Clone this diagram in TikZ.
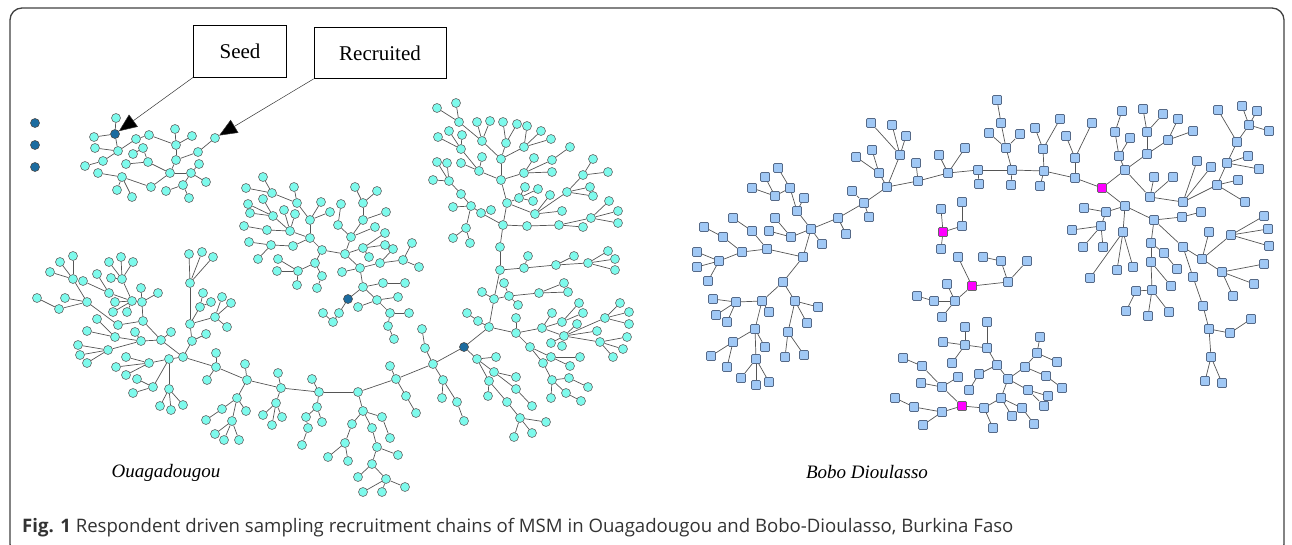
\documentclass[tikz,border=0pt]{standalone}
\usepackage{fontspec}
\setmainfont{Liberation Serif}
\newfontfamily\capfont{Open Sans}
\usetikzlibrary{arrows.meta}
\definecolor{ouacyan}{RGB}{125,250,236}
\definecolor{ouablue}{RGB}{28,108,160}
\definecolor{boboblue}{RGB}{160,200,245}
\definecolor{boboedge}{RGB}{85,105,135}
\definecolor{bobopink}{RGB}{255,0,255}
\definecolor{linkgray}{RGB}{85,85,85}
\tikzset{
  ouanode/.style={circle, draw=black!60, line width=0.6pt, fill=ouacyan, minimum size=9pt, inner sep=0pt},
  ouaseed/.style={ouanode, fill=ouablue, draw=black!70},
  bobonode/.style={rectangle, rounded corners=1pt, draw=boboedge, line width=0.7pt, fill=boboblue, minimum size=9pt, inner sep=0pt},
  boboseed/.style={bobonode, fill=bobopink, draw=black!60},
  link/.style={draw=linkgray, line width=0.7pt},
  labelbox/.style={draw, line width=0.8pt, fill=white, inner sep=0pt, font=\fontsize{21}{24}\selectfont},
  pointer/.style={draw=black!80, line width=0.5pt, -{Triangle[length=18pt,width=15pt,fill=black]}}
}
\begin{document}
\begin{tikzpicture}[x=1pt,y=-1pt]
\useasboundingbox (0,0) rectangle (1292,544);
\draw[black!75, line width=1.3pt, rounded corners=12pt] (10,8) rectangle (1284,556);

\foreach \y [count=\i] in {123,145,167}
  \node[ouaseed] (lone\i) at (35,\y) {};

\node[ouaseed] (qs) at (115,134) {};
\foreach \n/\x/\y/\p in {qa/116/118/qs, qb/94/137/qs, qf/118/151/qs, qe/95/148/qf,
    qj/103/161/qf, qi/85/166/qj, qc/136/139/qf, qd/149/135/qc, qp/176/145/qd,
    qm/175/129/qp, qn/192/136/qp, qr/176/160/qp, qq/198/152/qr, qo/215/138/qq,
    qw/170/173/qr, ql/148/162/qw, qg/143/148/ql, qh/133/154/qg, qk/126/164/ql,
    qx/191/173/qw, qt/199/164/qx, qy/206/182/qx, qad/183/185/qx, qac/166/191/qad,
    qae/189/198/qad, qab/151/187/qw, qv/122/177/qab, qu/98/173/qv, qz/117/190/qv,
    qaa/132/197/qv} {
  \node[ouanode] (\n) at (\x,\y) {};
  \draw[link] (\p) -- (\n);
}

\node[ouaseed] (os) at (464,347) {};
\foreach \n/\x/\y/\p in {o1/433/364/os, o2/396/379/o1, o3/358/392/o2, o4/319/392/o3,
    o5/281/388/o4, o6/247/380/o5, o7/216/367/o6, o8/183/357/o7,
    o1a/425/348/o1, o1b/422/329/o1a, o1c/443/380/o1, o1d/442/398/o1c,
    o1e/457/402/o1c, o1f/464/421/o1e,
    o2a/390/366/o2, o2b/406/396/o2, o2c/416/413/o2b,
    o3a/363/411/o3, o3b/382/417/o3a, o3c/352/424/o3a, o3d/372/428/o3a,
    o3e/390/438/o3b, o3f/345/443/o3c, o3g/328/457/o3f, o3h/348/461/o3f,
    o3i/377/447/o3d, o3j/398/455/o3i, o3k/372/464/o3i,
    o3m/358/477/o3k, o3n/386/479/o3k, o3o/405/487/o3n, o3p/363/492/o3n,
    o3q/382/492/o3n,
    o4a/312/379/o4, o4b/317/407/o4, o4c/306/417/o4b, o4d/308/428/o4c,
    o4e/302/445/o4d, o4f/322/422/o4b,
    o5a/278/373/o5, o5b/276/403/o5, o5c/263/415/o5b, o5d/272/425/o5b,
    o5e/282/417/o5b,
    o6a/245/364/o6, o6b/237/398/o6, o6c/222/409/o6b, o6d/206/420/o6c,
    o6e/246/411/o6b, o6f/232/421/o6b, o6g/215/434/o6f, o6h/224/440/o6f,
    o6i/239/440/o6f,
    o7a/216/353/o7, o7b/207/380/o7} {
  \node[ouanode] (\n) at (\x,\y) {};
  \draw[link] (\p) -- (\n);
}
\foreach \n/\x/\y/\p in {o8a/161/340/o8, o8b/143/321/o8a, o8c/142/302/o8b, o8d/141/288/o8c,
    o8e/158/293/o8c, o8f/132/301/o8c, o8g/122/279/o8f, o8h/109/262/o8g,
    o8i/121/257/o8g, o8j/133/262/o8g, o8n/111/278/o8g, o8k/109/293/o8f,
    o8l/83/281/o8k, o8m/97/274/o8k, o8o/115/302/o8f, o8p/113/312/o8f,
    o8q/127/312/o8f,
    o8r/118/325/o8b, o8s/87/302/o8r, o8t/73/279/o8s, o8u/73/256/o8t,
    o8v/60/262/o8t, o8w/50/272/o8t, o8x/65/298/o8s, o8y/59/309/o8s,
    o8z/37/298/o8y,
    o8aa/171/332/o8a, o8ab/141/341/o8a, o8ac/135/332/o8ab, o8ad/115/337/o8ab,
    o8ae/97/319/o8ad, o8af/87/331/o8ad, o8ag/108/350/o8ab, o8ah/78/345/o8ag,
    o8ai/80/355/o8ag, o8aj/87/363/o8ag,
    o8ak/169/359/o8, o8al/149/363/o8ak, o8am/126/357/o8al, o8an/116/367/o8al,
    o8ao/126/375/o8al, o8ap/153/387/o8ak, o8aq/137/379/o8ap, o8ar/133/393/o8ap,
    o8as/169/389/o8ak, o8at/160/406/o8as, o8au/171/410/o8as, o8av/183/405/o8as,
    o8aw/192/341/o8, o8ax/206/334/o8aw, o8ay/190/324/o8aw, o8az/190/283/o8ay,
    o8ba/189/254/o8az, o8bb/202/252/o8az, o8bc/213/257/o8az, o8bd/200/307/o8ay,
    o8be/203/293/o8bd, o8bf/211/302/o8bd, o8bg/215/317/o8ay, o8bh/222/297/o8bg,
    o8bi/231/303/o8bg, o8bj/227/327/o8bg} {
  \node[ouanode] (\n) at (\x,\y) {};
  \draw[link] (\p) -- (\n);
}
\foreach \n/\x/\y/\p in {p1/489/327/os, p2/478/321/p1, p3/467/313/p2, p4/494/299/p1,
    p5/482/292/p4, p6/509/296/p4, p7/504/283/p6, p8/518/305/p6, p9/539/293/p6,
    p10/564/283/p9, p11/568/292/p9, p12/500/270/p4,
    d1/477/359/os, d2/496/357/d1, d3/494/372/d1, d4/516/377/d3, d5/516/389/d3,
    d6/532/406/d5, d7/489/381/d1, d8/488/396/d7, d9/507/402/d7, d10/520/418/d9,
    d11/546/422/d10, d12/514/437/d10, d13/532/433/d10,
    r1/516/333/p1, r2/516/318/r1, r3/542/328/r1, r4/552/313/r3, r5/562/322/r3,
    r6/579/303/r5, r7/583/313/r5, r8/564/336/r3, r9/577/324/r8, r10/597/331/r8,
    r11/605/318/r8, r12/620/303/r11, r13/629/312/r11, r14/629/324/r11,
    r15/600/342/r8, r16/627/337/r15, r17/623/349/r15, r18/613/357/r15,
    r19/551/343/r8, r20/562/346/r8,
    r21/530/347/r1, r22/551/357/r21, r23/580/357/r22, r24/570/366/r22,
    r25/543/363/r21, r26/552/380/r25, r27/569/378/r26, r28/588/387/r27,
    r29/566/393/r26, r30/581/401/r29, r31/551/398/r26} {
  \node[ouanode] (\n) at (\x,\y) {};
  \draw[link] (\p) -- (\n);
}
\foreach \n/\x/\y/\p in {t1/500/247/p12, t2/503/225/t1, t3/507/203/t2, t4/501/180/t3,
    t5/501/159/t4, t6/524/268/p12, t7/528/256/t6, t8/556/265/t6, t9/574/256/t8,
    t10/588/263/t8, t11/608/251/t10, t12/615/259/t10, t13/615/270/t10,
    t14/527/226/t2, t15/559/225/t14, t16/583/227/t15, t17/591/218/t15,
    t18/609/201/t17, t19/618/211/t17, t20/618/223/t17,
    t21/519/198/t3, t22/525/187/t21, t23/538/189/t21, t24/533/201/t21,
    t25/535/214/t3, t26/550/195/t25, t27/562/211/t25, t28/567/192/t25,
    t29/583/175/t28, t30/593/159/t29, t31/608/172/t29, t32/590/187/t28,
    t33/593/196/t28,
    t34/524/173/t4, t35/534/158/t34, t36/552/160/t34, t37/552/172/t34,
    t38/570/147/t36,
    t39/479/171/t4, t40/461/149/t39, t41/449/131/t40, t42/462/135/t40,
    t43/438/137/t40, t44/482/157/t39, t45/461/163/t39,
    t46/482/141/t5, t47/459/122/t46, t48/437/108/t47, t49/456/103/t47,
    t50/477/122/t46, t51/490/121/t46, t52/506/143/t5, t53/503/122/t52,
    t54/517/124/t52, t55/524/147/t5, t56/527/126/t55, t57/541/131/t55,
    t58/551/139/t55,
    t59/481/213/t2, t60/491/210/t59, t61/471/206/t59, t62/453/207/t61,
    t63/466/228/t61, t64/453/238/t63, t65/470/243/t63, t66/461/194/t61,
    t67/449/181/t66, t68/437/162/t67, t69/447/163/t67, t70/433/180/t67} {
  \node[ouanode] (\n) at (\x,\y) {};
  \draw[link] (\p) -- (\n);
}

\node[ouaseed] (ms) at (348,299) {};
\foreach \n/\x/\y/\p in {m50/363/287/ms, m62/339/313/ms, m63/333/322/m62, m64/323/313/m63,
    m43/360/268/m50, m51/383/283/m50, m52/405/283/m51, m54/377/300/m50,
    m55/398/297/m54, m56/358/307/m54, m57/390/313/m54, m58/409/313/m57,
    m59/388/326/m57, m60/394/339/m59,
    m29/345/254/m43, m44/342/272/m43, m45/380/263/m43, m46/393/249/m45,
    m47/403/260/m45, m48/412/243/m47, m49/419/267/m47,
    m39/363/248/m29, m40/385/233/m39, m41/385/245/m39, m42/369/257/m39,
    m32/351/237/m29, m38/375/227/m32, m36/363/220/m32, m34/363/203/m36,
    m33/355/187/m34, m35/377/191/m34, m37/386/212/m36, m30/338/225/m32,
    m31/341/204/m30,
    m21/322/250/m29, m16/310/238/m21, m22/315/263/m21, m23/298/271/m22,
    m24/278/259/m23, m25/277/271/m23, m26/297/285/m23, m27/322/276/m22,
    m28/317/288/m27,
    m15/310/220/m16, m6/297/203/m15, m6a/321/202/m15, m6b/330/212/m15,
    m3/272/193/m6, m5/294/187/m6, m1/263/177/m3, m2/246/188/m3,
    m14/290/231/m16, m9/273/216/m14, m4/263/199/m9, m7/248/204/m9,
    m8/250/213/m9, m10/284/210/m14, m11/295/214/m14, m13/267/230/m14,
    m12/244/226/m13, m19/293/246/m16, m18/271/245/m19, m17/249/242/m18,
    m20/258/259/m18} {
  \node[ouanode] (\n) at (\x,\y) {};
  \draw[link] (\p) -- (\n);
}

\node[boboseed] (bs1) at (1102,188) {};
\foreach \n/\x/\y/\p in {c15/1075/178/bs1, c16/1075/158/c15, c17/1066/136/c16, c18/1092/123/c16,
    c10/1044/171/c15, c11/1040/186/c10, c12/1043/149/c10, c13/1035/128/c12,
    c14/1060/119/c12, c6/1012/170/c10, c9/1011/185/c6, c5/1006/148/c6,
    c2/1001/123/c5, c1/997/100/c2, c3/989/133/c5, c4/1020/134/c5,
    b14/978/170/c6, c8/979/184/b14, b11/948/173/b14, b12/939/155/b11,
    b13/965/148/b11, b9/918/181/b11, b10/916/163/b9, b8/887/187/b9,
    b7/879/173/b8, b5/872/150/b7, b6/856/157/b7, b4/900/155/b8,
    b1/871/123/b4, b2/892/125/b4, b3/906/136/b4, b15/864/203/b8,
    b16/852/191/b15, b17/869/217/b15, b18/838/218/b15, b19/846/234/b18,
    b20/811/229/b18, b21/822/244/b20, b22/797/211/b20, b23/804/198/b22,
    b24/790/188/b22, b25/775/196/b24, b26/778/168/b24, b27/765/177/b25,
    b28/752/188/b25, b29/791/237/b20, b30/775/218/b29, b31/769/231/b29,
    b32/803/257/b20, b33/767/249/b32, b34/752/231/b33, b35/733/218/b34,
    b45/742/252/b33, b36/723/237/b45, b36a/704/227/b36, b46/719/261/b45,
    b47/697/252/b46, b48/697/267/b46, b49/708/281/b46,
    b37/783/282/b32, b38/762/301/b37, b39/795/301/b37, b40/818/307/b39,
    b41/736/302/b38, b42/713/299/b41, b43/716/315/b41, b50/727/322/b41,
    b44/769/312/b38, b51/755/329/b38, b52/733/342/b51, b53/711/356/b52,
    b54/727/367/b52, b55/765/347/b51, b56/756/359/b51, b57/741/378/b56,
    b58/756/385/b56, b59/769/382/b56, b60/788/332/b39, b61/785/357/b60,
    b62/804/355/b60, b63/807/323/b39} {
  \node[bobonode] (\n) at (\x,\y) {};
  \draw[link] (\p) -- (\n);
}
\foreach \n/\x/\y/\p in {c19/1125/170/bs1, c20/1119/156/c19, c21/1115/132/c20, c22/1122/111/c21,
    c23/1130/138/c20, c24/1147/154/c19, c25/1147/132/c24, c26/1143/109/c25,
    c27/1163/114/c25, c28/1168/140/c24, c29/1178/119/c28, c30/1193/131/c28,
    c31/1150/197/c19, c32/1154/177/c31, c33/1173/177/c31, c34/1183/202/c31,
    c35/1197/161/c34, c36/1211/167/c34, c37/1217/185/c34, c38/1227/163/c37,
    c39/1238/180/c37, c40/1245/202/c37, c41/1237/142/c38, c42/1218/110/c41,
    c43/1249/125/c41, c44/1242/106/c43, c45/1257/111/c43, c46/1269/131/c43,
    c47/1248/156/c38, c48/1259/169/c38,
    c49/1125/206/bs1, c50/1106/212/c49, c51/1084/208/c50, c52/1101/226/c50,
    c53/1072/230/c52, c54/1083/247/c52, c55/1103/247/c52, c56/1123/232/c49,
    c57/1090/278/c56, c58/1117/270/c56, c59/1133/267/c56, c60/1154/220/c49,
    c61/1182/217/c60, c62/1201/212/c61, c63/1151/243/c60, c64/1164/253/c63,
    c65/1177/269/c64, c66/1151/262/c63, c67/1171/286/c66, c68/1152/290/c66,
    c69/1136/291/c68, c70/1126/311/c69, c71/1148/316/c68, c72/1169/312/c68,
    c73/1183/247/c60, c74/1202/259/c73, c75/1209/232/c74, c76/1231/235/c74,
    c77/1264/216/c76, c78/1268/229/c76, c79/1269/246/c76, c80/1222/272/c74,
    c81/1264/264/c80, c82/1254/284/c80, c83/1233/296/c80, c84/1193/277/c73,
    c85/1203/306/c84, c86/1209/329/c85, c87/1230/333/c86, c88/1251/319/c87,
    c89/1211/357/c86, c90/1205/381/c89, c91/1222/383/c89} {
  \node[bobonode] (\n) at (\x,\y) {};
  \draw[link] (\p) -- (\n);
}

\node[boboseed] (bs2) at (943,232) {};
\node[boboseed] (bs3) at (972,286) {};
\node[boboseed] (bs4) at (962,406) {};
\foreach \n/\x/\y/\p in {e1/941/209/bs2, e2/941/249/bs2, e3/962/226/bs2, e4/962/202/e3,
    f1/955/301/bs3, f2/934/301/f1, f3/917/296/f2, f4/947/284/f1, f5/958/257/bs3,
    f6/942/317/f1, f7/1008/282/bs3, f8/1001/261/f7, f9/983/257/f8, f10/1027/261/f7,
    g1/942/412/bs4, g2/914/407/g1, g3/895/398/g2, g4/923/425/g1, g5/942/387/bs4,
    g6/921/383/g5, g7/958/377/g5, g8/922/366/g5, g9/903/358/g8,
    g10/984/408/bs4, g11/993/428/g10, g12/1001/398/g10, g13/1012/416/g12,
    g14/1022/408/g12, g15/1034/424/g14, g16/1008/379/g12, g17/1028/390/g16,
    g18/1048/396/g17, g19/1044/406/g17, g20/1025/367/g16, g21/1037/353/g20,
    g22/1040/337/g21, g23/1057/362/g21, g24/1046/376/g20, g25/1062/388/g24,
    g26/997/365/g16, g27/987/348/g26, g28/965/345/g27, g29/987/322/g27,
    g30/965/327/g28, g31/943/342/g28, g32/952/363/g28, g33/979/374/g26,
    g34/969/390/g33} {
  \node[bobonode] (\n) at (\x,\y) {};
  \draw[link] (\p) -- (\n);
}

\node[labelbox, minimum width=93pt, minimum height=52pt] (seedbox) at (240,51) {Seed};
\node[labelbox, minimum width=132pt, minimum height=51pt] (recbox) at (380,53) {Recruited};
\draw[pointer] (seedbox.south west) -- (qs);
\draw[pointer] (recbox.south west) -- (qo);

\node[font=\fontsize{19}{22}\selectfont\itshape] (ouaga) at (166,473) {Ouagadougou};
\node[font=\fontsize{19}{22}\selectfont\itshape] (bobo) at (867,472) {Bobo Dioulasso};
\node[anchor=base west, inner sep=0pt, text=black!80, font=\capfont\fontsize{18.6}{21}\selectfont] (caption) at (22,532)
  {\textbf{Fig. 1} Respondent driven sampling recruitment chains of MSM in Ouagadougou and Bobo-Dioulasso, Burkina Faso};
\end{tikzpicture}
\end{document}
